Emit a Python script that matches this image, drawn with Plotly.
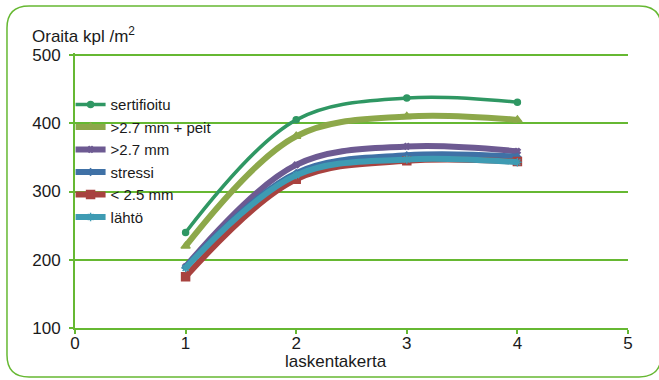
import plotly.graph_objects as go

# Seedling counts per counting round
rounds = [1, 2, 3, 4]
series_names = ["sertifioitu", ">2.7 mm + peit", ">2.7 mm", "stressi", "< 2.5 mm", "lähtö"]
sertifioitu = [240, 405, 437, 431]
yli27_peit = [220, 381, 410, 405]
yli27 = [190, 339, 366, 359]
stressi = [189, 327, 353, 351]
alle25 = [175, 318, 345, 344]
lahto = [188, 324, 347, 343]
x_ticks = [0, 1, 2, 3, 4, 5]
y_ticks = [100, 200, 300, 400, 500]

values = [sertifioitu, yli27_peit, yli27, stressi, alle25, lahto]
colors = ["#2F9763", "#8DA84A", "#6D5A92", "#3F71A6", "#A8423F", "#3E9BB3"]
symbols = ["circle", "triangle-up", "x", "diamond", "square", "asterisk-open"]
widths = [3.5, 6, 6, 6, 6, 6]
msizes = [6, 8, 5, 5, 8, 7]

GREEN = "#66B832"
FONT = "Liberation Sans, Arial, sans-serif"

fig = go.Figure()
for name, ys, c, sym, w, ms in zip(series_names, values, colors, symbols, widths, msizes):
    fig.add_trace(go.Scatter(
        x=rounds, y=ys, name=name, mode="lines+markers",
        line=dict(color=c, width=w, shape="spline", smoothing=1.0),
        marker=dict(symbol=sym, size=ms, color=c, line=dict(color=c, width=1.5)),
    ))

fig.update_layout(
    width=659, height=380,
    margin=dict(l=75, r=31, t=53, b=52),
    paper_bgcolor="white", plot_bgcolor="white",
    font=dict(family=FONT, size=17, color="#1a1a1a"),
    showlegend=True,
    legend=dict(
        x=-0.008, y=0.872, xanchor="left", yanchor="top",
        bgcolor="rgba(0,0,0,0)", borderwidth=0,
        font=dict(family=FONT, size=15, color="#1a1a1a"),
        tracegroupgap=0, itemwidth=30,
    ),
    xaxis=dict(
        range=[0, 5], tickvals=x_ticks, showgrid=False, zeroline=False,
        showline=True, linecolor=GREEN, linewidth=2,
        ticks="outside", ticklen=4, tickcolor=GREEN, tickwidth=2,
        tickfont=dict(family=FONT, size=17), ticklabelstandoff=-5,
    ),
    yaxis=dict(
        range=[100, 503], tickvals=y_ticks, showgrid=True, gridcolor=GREEN, gridwidth=1.5,
        zeroline=False, showline=True, linecolor=GREEN, linewidth=2,
        ticks="outside", ticklen=4, tickcolor=GREEN, tickwidth=2,
        tickfont=dict(family=FONT, size=17), ticklabelstandoff=5,
    ),
    annotations=[
        dict(text="Oraita kpl /m<sup>2</sup>", xref="paper", yref="paper",
             x=-0.082, y=1.065, xanchor="left", yanchor="middle",
             showarrow=False, font=dict(family=FONT, size=17)),
        dict(text="laskentakerta", xref="paper", yref="paper",
             x=0.472, y=-0.122, xanchor="center", yanchor="middle",
             showarrow=False, font=dict(family=FONT, size=17)),
    ],
)

# Rounded frame around the whole chart (paper coordinates)
x0, x1 = -0.123, 1.06
y0, y1 = -0.178, 1.171
rx, ry = 0.04, 0.08
frame = (f"M {x0 + rx} {y1} L {x1 - rx} {y1} Q {x1} {y1} {x1} {y1 - ry} "
         f"L {x1} {y0 + ry} Q {x1} {y0} {x1 - rx} {y0} "
         f"L {x0 + rx} {y0} Q {x0} {y0} {x0} {y0 + ry} "
         f"L {x0} {y1 - ry} Q {x0} {y1} {x0 + rx} {y1} Z")
fig.add_shape(type="path", path=frame, xref="paper", yref="paper",
              line=dict(color=GREEN, width=1.5), layer="below")

fig.write_html("out.html")
